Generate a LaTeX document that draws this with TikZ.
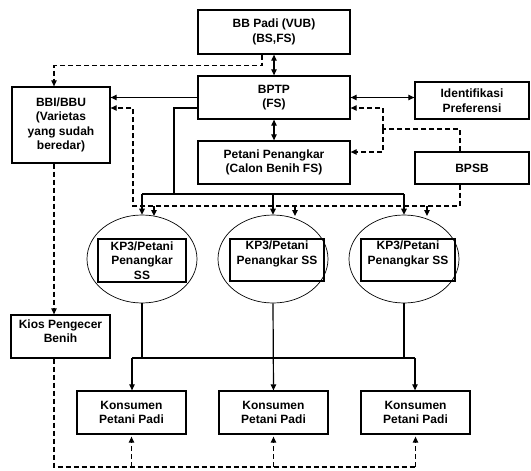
\documentclass[tikz,border=0pt]{standalone}
\usepackage{fontspec}
\setmainfont{Liberation Sans}
\usetikzlibrary{arrows.meta,shapes.geometric}

\begin{document}
\begin{tikzpicture}[x=1pt,y=-1pt,
	>={Triangle[length=6pt,width=5.5pt]},
	kotak/.style={draw,line width=1.3pt,align=center,inner sep=1pt,
		font=\bfseries\fontsize{12}{14.5}\selectfont},
	lingkar/.style={draw,ellipse,line width=0.7pt,inner sep=0pt,
		minimum width=110pt,minimum height=88pt},
	garis/.style={line width=1.2pt},
	putus/.style={line width=1.2pt,dash pattern=on 5pt off 3pt}]
	
	\useasboundingbox (0,0) rectangle (531,471);
	
	% Kotak atas
	\node[kotak,minimum width=152pt,minimum height=44pt] (bbpadi) at (274,32) {BB Padi (VUB)\\(BS,FS)};
	\node[kotak,minimum width=152pt,minimum height=43pt] (bptp) at (274,97.5) {BPTP\\(FS)};
	\node[kotak,minimum width=152pt,minimum height=43pt] (petani) at (274,162.5) {Petani Penangkar\\(Calon Benih FS)};
	\node[kotak,minimum width=98pt,minimum height=76pt] (bbi) at (61,125) {BBI/BBU\\(Varietas\\yang sudah\\beredar)};
	\node[kotak,minimum width=114pt,minimum height=37pt] (ident) at (472,100.5) {Identifikasi\\Preferensi};
	\node[kotak,minimum width=114pt,minimum height=32pt] (bpsb) at (472,168) {BPSB};
	\node[kotak,minimum width=99pt,minimum height=43pt] (kios) at (60.5,336.5) {Kios Pengecer\\Benih\\[-4pt]};
	
	% KP3 di dalam lingkaran
	\node[lingkar] (ell1) at (142,259) {};
	\node[lingkar] (ell2) at (273,259) {};
	\node[lingkar] (ell3) at (404,259) {};
	\node[kotak,minimum width=88pt,minimum height=43pt] (kp1) at (142,260.5) {KP3/Petani\\Penangkar\\SS};
	\node[kotak,minimum width=94pt,minimum height=42pt] (kp2) at (277,260) {KP3/Petani\\Penangkar SS\\~};
	\node[kotak,minimum width=94pt,minimum height=42pt] (kp3) at (408,260) {KP3/Petani\\Penangkar SS\\~};
	
	% Konsumen
	\node[kotak,minimum width=109pt,minimum height=43pt] (kon1) at (131.5,412.5) {Konsumen\\Petani Padi};
	\node[kotak,minimum width=109pt,minimum height=43pt] (kon2) at (273.5,412.5) {Konsumen\\Petani Padi};
	\node[kotak,minimum width=109pt,minimum height=43pt] (kon3) at (415.5,412.5) {Konsumen\\Petani Padi};
	
	% titik bantu
	\coordinate (sbj) at (174,194);
	\coordinate (sb1) at (142,194);
	\coordinate (sb2) at (273,194);
	\coordinate (sb3) at (404,194);
	\coordinate (dk) at (383,129);
	\coordinate (dbl) at (133,206);
	\coordinate (db1) at (154,206);
	\coordinate (db2) at (295,206);
	\coordinate (db3) at (427,206);
	\coordinate (lb1) at (132,358);
	\coordinate (lb3) at (415,358);
	\coordinate (bd0) at (54,467);
	
	% panah utama
	\draw[garis,<->] (bbpadi.south) -- (bptp.north);
	\draw[garis,<->] (bptp.south) -- (petani.north);
	\draw[garis,<->] (bptp.east) -- (bptp.east -| ident.west);
	\draw[garis,->] (bptp.west) -- (bptp.west -| bbi.east);
	\draw[putus,->] ([xshift=-12pt]bbpadi.south) -- ++(0,11) -| ([xshift=-7pt]bbi.north);
	
	% jalur BPTP ke KP3
	\draw[garis] ([yshift=-10.5pt]bptp.west) -| (sbj);
	\draw[garis] (sb1) -- (sb3);
	\foreach \i in {1,2,3}
		\draw[garis,->] (sb\i) -- (ell\i.north);
	
	% jalur BPSB
	\draw[putus] ([xshift=-12pt]bpsb.north) |- (dk);
	\draw[putus,->] (dk) |- ([yshift=-10.5pt]bptp.east);
	\draw[putus,->] (dk) |- ([yshift=10.5pt]petani.east);
	\draw[putus,->] ([xshift=-12pt]bpsb.south) |- (dbl) |- ([yshift=17pt]bbi.east);
	\foreach \i in {1,2,3}
		\draw[putus,->] (db\i) -- ++(0,10);
	
	% KP3 ke konsumen
	\draw[garis] (ell1.south) -- (ell1.south |- lb1);
	\draw[garis] (ell3.south) -- (ell3.south |- lb1);
	\draw[garis] (lb1) -- (lb3);
	\draw[garis,->] (ell2.south) -- (kon2.north);
	\draw[garis,->] (lb1) -- (lb1 |- kon1.north);
	\draw[garis,->] (lb3) -- (lb3 |- kon3.north);
	
	% jalur kios
	\draw[putus,->] ([xshift=-7pt]bbi.south) -- ([xshift=-7pt]bbi.south |- kios.north);
	\draw[putus] ([xshift=-7pt]bbi.south |- kios.south) -- (bd0) -- (bd0 -| kon3.south);
	\foreach \i in {1,2,3}
		\draw[putus,->,shorten >=2pt] (kon\i.south |- bd0) -- (kon\i.south);
	
\end{tikzpicture}
\end{document}
